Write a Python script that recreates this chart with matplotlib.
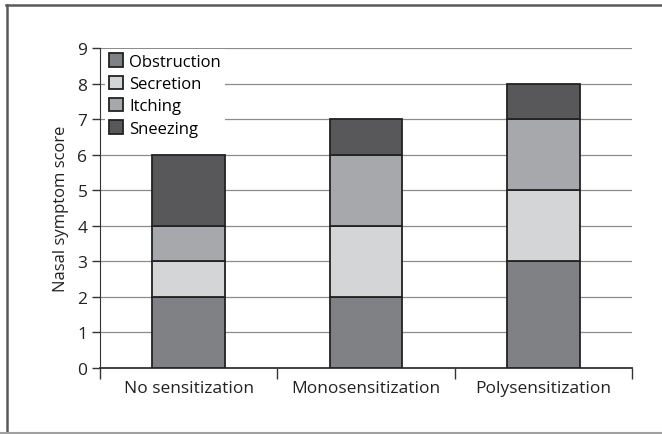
import matplotlib.pyplot as plt
from matplotlib.lines import Line2D
import numpy as np

plt.rcParams['font.family'] = ['Open Sans', 'DejaVu Sans']

groups = ['No sensitization', 'Monosensitization', 'Polysensitization']
symptoms = ['Obstruction', 'Secretion', 'Itching', 'Sneezing']
obstruction = [2, 2, 3]
secretion = [1, 2, 2]
itching = [1, 2, 2]
sneezing = [2, 1, 1]
colors = ['#808184', '#d4d5d7', '#a7a8ab', '#58585a']

fig = plt.figure(figsize=(6.62, 4.35), dpi=100)
ax = fig.add_axes([0.151, 0.152, 0.804, 0.735])

# frame lines around the figure (left/top dark, bottom light)
W, H = 662, 435
fig.lines.append(Line2D([7 / W, 7 / W], [1 - 5.5 / H, 0], transform=fig.transFigure,
                        color='#5a5a5a', linewidth=1.8))
fig.lines.append(Line2D([6 / W, 1], [1 - 6 / H, 1 - 6 / H], transform=fig.transFigure,
                        color='#5a5a5a', linewidth=1.8))
fig.lines.append(Line2D([0, 1], [1.5 / H, 1.5 / H], transform=fig.transFigure,
                        color='#a0a0a0', linewidth=1.5))

x = np.arange(len(groups))
bottom = np.zeros(len(groups))
for name, vals, c in zip(symptoms, [obstruction, secretion, itching, sneezing], colors):
    ax.bar(x, vals, width=0.41, bottom=bottom, color=c, edgecolor='#222222',
           linewidth=1.3, label=name, zorder=3)
    bottom += np.array(vals)

ax.set_xlim(-0.5, 2.5)
ax.set_ylim(0, 9)
ax.set_yticks(range(10))
ax.yaxis.grid(True, color='#8c8c8c', linewidth=0.9, zorder=0)
ax.set_axisbelow(True)

ax.set_xticks(x)
ax.set_xticklabels(groups)
ax.set_xticks([-0.5, 0.5, 1.5, 2.5], minor=True)
ax.tick_params(axis='x', which='major', length=0, labelsize=12.5, pad=9, colors='#222222')
ax.tick_params(axis='x', which='minor', length=8, width=1, color='#333333')
ax.tick_params(axis='y', length=6, width=1, labelsize=12.5, pad=3, color='#333333', labelcolor='#222222')

for s in ['top', 'right']:
    ax.spines[s].set_visible(False)
ax.spines['left'].set_color('#333333')
ax.spines['bottom'].set_color('#333333')
ax.spines['bottom'].set_linewidth(1.3)

ax.set_ylabel('Nasal symptom score', fontsize=12, color='#222222', labelpad=6)

leg = ax.legend(loc='upper left', bbox_to_anchor=(0.0, 1.012), frameon=True,
                fancybox=False, edgecolor='none', framealpha=1, fontsize=12,
                handlelength=0.85, handleheight=0.85, handletextpad=0.35,
                labelspacing=0.35, borderpad=0.25, borderaxespad=0.3)
leg.set_zorder(5)

fig.savefig('out.png', dpi=100)
